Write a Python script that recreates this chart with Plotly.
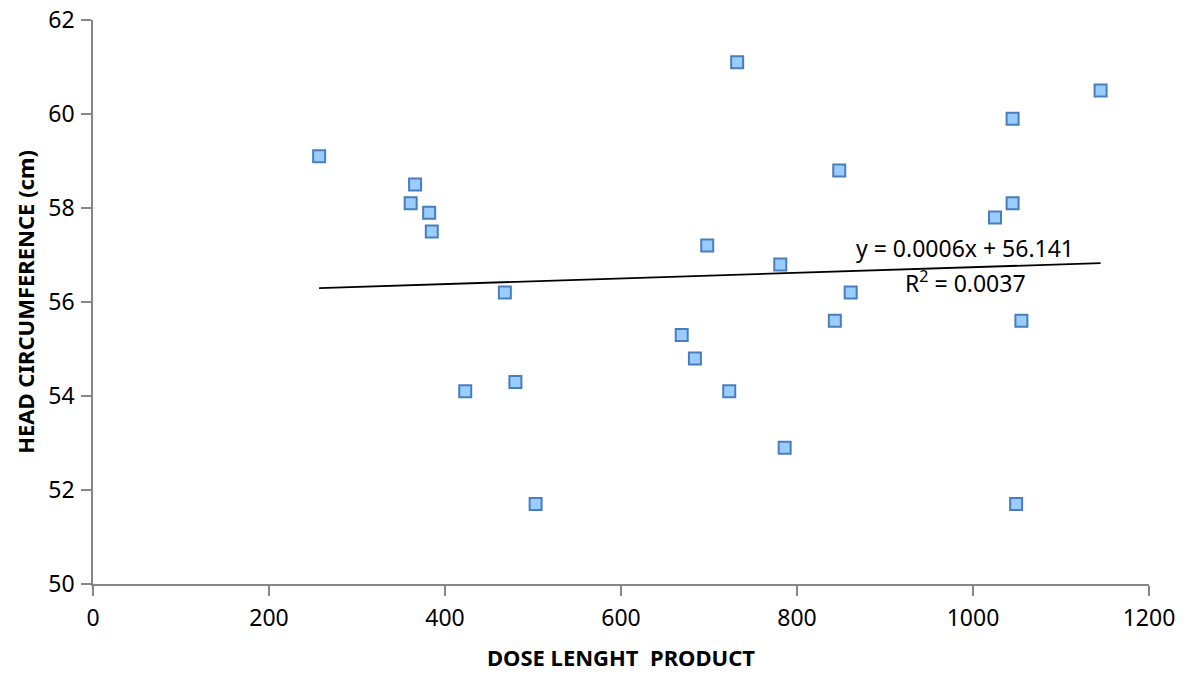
import plotly.graph_objects as go

dlp = [257, 366, 361, 382, 385, 423, 468, 480, 503, 669, 684, 698, 723, 732,
       781, 786, 843, 848, 861, 1025, 1045, 1045, 1049, 1055, 1145]
head_circ = [59.1, 58.5, 58.1, 57.9, 57.5, 54.1, 56.2, 54.3, 51.7, 55.3, 54.8, 57.2, 54.1, 61.1,
             56.8, 52.9, 55.6, 58.8, 56.2, 57.8, 59.9, 58.1, 51.7, 55.6, 60.5]

slope = 0.0006
intercept = 56.141
r_squared = 0.0037

x_ticks = [0, 200, 400, 600, 800, 1000, 1200]
y_ticks = [50, 52, 54, 56, 58, 60, 62]

font_family = "Noto Sans"

trend_x = [min(dlp), max(dlp)]
trend_y = [slope * v + intercept for v in trend_x]

fig = go.Figure()
fig.add_trace(go.Scatter(
    x=trend_x, y=trend_y, mode="lines",
    line=dict(color="black", width=1.8), showlegend=False, hoverinfo="skip"))
fig.add_trace(go.Scatter(
    x=dlp, y=head_circ, mode="markers",
    marker=dict(symbol="square", size=12, color="#99CCFF",
                line=dict(color="#4A7EBB", width=2)),
    showlegend=False))

fig.add_annotation(x=991, y=57.15, xref="x", yref="y",
                   text=f"y = {slope}x + {intercept}", showarrow=False,
                   font=dict(family=font_family, size=23, color="black"))
fig.add_annotation(x=991, y=56.43, xref="x", yref="y",
                   text=f"R<sup>2</sup> = {r_squared}", showarrow=False,
                   font=dict(family=font_family, size=23, color="black"))

axis_common = dict(
    showgrid=False, zeroline=False, showline=True, automargin=False,
    linecolor="#868686", linewidth=1.5,
    ticks="outside", tickcolor="#868686", tickwidth=1.5, ticklen=10,
    tickfont=dict(family=font_family, size=23, color="black"),
    ticklabeloverflow="allow",
)

fig.update_xaxes(range=[0, 1200], tickvals=x_ticks, **axis_common,
                 ticklabelstandoff=3,
                 title=dict(text="<b>DOSE LENGHT  PRODUCT</b>",
                            font=dict(family=font_family, size=22, color="black"),
                            standoff=18))
fig.update_yaxes(range=[50, 62], tickvals=y_ticks, **axis_common,
                 ticklabelstandoff=2,
                 title=dict(text="<b>HEAD CIRCUMFERENCE (cm)</b>",
                            font=dict(family=font_family, size=22, color="black"),
                            standoff=8))

fig.update_layout(
    width=1179, height=667,
    margin=dict(l=85, r=38, t=12, b=91),
    plot_bgcolor="white", paper_bgcolor="white",
    font=dict(family=font_family, color="black"),
)

fig.write_html("out.html")
